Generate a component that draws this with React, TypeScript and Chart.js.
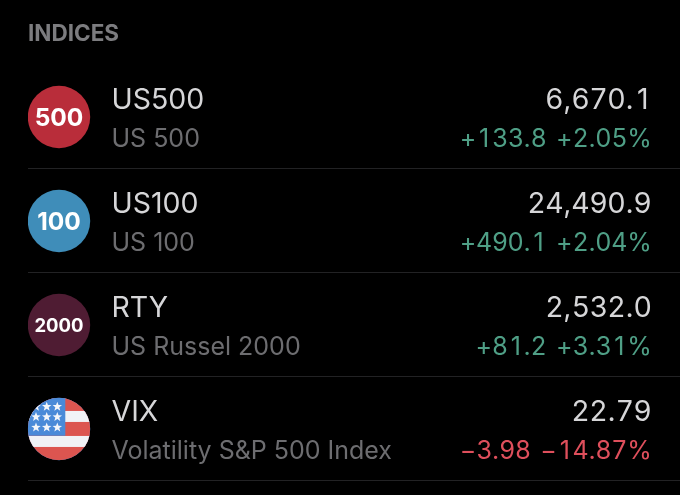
import React, { useEffect, useRef } from "react";
import { Chart, registerables } from "chart.js";

Chart.register(...registerables);

const heading = "INDICES";
const symbols = ["US500", "US100", "RTY", "VIX"];
const names = ["US 500", "US 100", "US Russel 2000", "Volatility S&P 500 Index"];
const prices = ["6,670.1", "24,490.9", "2,532.0", "22.79"];
const changes = ["+133.8", "+490.1", "+81.2", "\u22123.98"];
const percents = ["+2.05%", "+2.04%", "+3.31%", "\u221214.87%"];
const badgeLabels = ["500", "100", "2000", ""];
const badgeColors = ["#b92d3a", "#3f8db9", "#4f1c33", "#4a8ad8"];
const rows = [0, 1, 2, 3];
const separators = [0.5, 1.5, 2.5, 3.5];

const FONT = "Inter, 'Noto Sans', sans-serif";
const GREEN = "#4f9f86";
const RED = "#df4f5c";
const BADGE_X = 59;
const TEXT_X = 111.5;
const RIGHT_X = 651.7;

function text(
  ctx: CanvasRenderingContext2D,
  s: string,
  x: number,
  y: number,
  font: string,
  color: string,
  align: CanvasTextAlign
) {
  ctx.font = font;
  ctx.fillStyle = color;
  ctx.textAlign = align;
  ctx.textBaseline = "alphabetic";
  ctx.fillText(s, x, y);
}

// Right-aligned text whose digits all take one cell width, as in the reference's tabular figures.
function tabular(
  ctx: CanvasRenderingContext2D,
  s: string,
  right: number,
  y: number,
  font: string,
  color: string
) {
  ctx.font = font;
  ctx.fillStyle = color;
  ctx.textBaseline = "alphabetic";
  ctx.textAlign = "center";
  const cell = ctx.measureText("0").width;
  const widths = Array.from(s).map((ch) => (/[0-9]/.test(ch) ? cell : ctx.measureText(ch).width));
  const total = widths.reduce((a, b) => a + b, 0);
  let pos = right - total;
  Array.from(s).forEach((ch, i) => {
    ctx.fillText(ch, pos + widths[i] / 2, y);
    pos += widths[i];
  });
  return total;
}

function star(ctx: CanvasRenderingContext2D, cx: number, cy: number, r: number) {
  ctx.beginPath();
  for (let i = 0; i < 10; i++) {
    const a = -Math.PI / 2 + (i * Math.PI) / 5;
    const rr = i % 2 === 0 ? r : r * 0.42;
    ctx.lineTo(cx + Math.cos(a) * rr, cy + Math.sin(a) * rr);
  }
  ctx.closePath();
  ctx.fill();
}

function flag(ctx: CanvasRenderingContext2D, cx: number, cy: number, r: number) {
  ctx.save();
  ctx.beginPath();
  ctx.arc(cx, cy, r, 0, Math.PI * 2);
  ctx.clip();
  ctx.fillStyle = "#dc5550";
  ctx.fillRect(cx - r, cy - r, r * 2, r * 2);
  ctx.fillStyle = "#f1f2f6";
  ctx.fillRect(cx - r, cy - 18, r * 2, 11);
  ctx.fillRect(cx - r, cy + 7, r * 2, 11);
  ctx.fillStyle = "#4a8ad8";
  ctx.fillRect(cx - r, cy - r, 37.5, 38);
  ctx.fillStyle = "#f4f6fa";
  [-22.3, -12, -1.5].forEach((dy) => {
    [-23, -12.3, -1.7].forEach((dx) => star(ctx, cx + dx, cy + dy, 5));
  });
  ctx.restore();
}

const listPlugin = {
  id: "listText",
  afterDatasetsDraw(chart: any) {
    const ctx: CanvasRenderingContext2D = chart.ctx;
    const x = chart.scales.x;
    const y = chart.scales.y;
    const circle = x.getPixelForValue(BADGE_X);
    const left = x.getPixelForValue(TEXT_X);
    const right = x.getPixelForValue(RIGHT_X);
    ctx.save();
    (ctx as any).filter = "blur(0.35px)";
    text(ctx, heading, 28, y.getPixelForValue(-0.733), `700 22.5px ${FONT}`, "#7c7c7f", "left");
    rows.forEach((i) => {
      const c = y.getPixelForValue(i);
      if (badgeLabels[i]) {
        const small = badgeLabels[i].length > 3;
        text(ctx, badgeLabels[i], circle, c + (small ? 7 : 8.9), `700 ${small ? 18.5 : 24.5}px ${FONT}`, "#ffffff", "center");
      } else {
        flag(ctx, circle, c, 31.2);
      }
      text(ctx, symbols[i], left, c - 8.4, `400 28.5px ${FONT}`, "#d6d6d8", "left");
      text(ctx, names[i], left, c + 29.6, `400 25px ${FONT}`, "#6d6d70", "left");
      tabular(ctx, prices[i], right, c - 8.4, `400 28.5px ${FONT}`, "#d6d6d8");
      const col = changes[i].startsWith("+") ? GREEN : RED;
      const w = tabular(ctx, percents[i], right, c + 29.6, `400 25px ${FONT}`, col);
      tabular(ctx, changes[i], right - w - 9.5, c + 29.6, `400 25px ${FONT}`, col);
    });
    ctx.restore();
  },
};

export default function App() {
  const ref = useRef<HTMLCanvasElement>(null);
  useEffect(() => {
    document.documentElement.style.background = "#000";
    document.body.style.margin = "0";
    document.body.style.background = "#000";
    const chart = new Chart(ref.current!, {
      type: "scatter",
      data: {
        datasets: [
          {
            data: rows.map((r) => ({ x: BADGE_X, y: r })),
            backgroundColor: badgeColors,
            borderWidth: 0,
            pointRadius: 31.2,
            pointHoverRadius: 31.2,
          },
        ],
      },
      options: {
        animation: false,
        responsive: false,
        events: [],
        layout: { autoPadding: false, padding: { left: 28, right: 0, top: 0, bottom: 0 } },
        plugins: { legend: { display: false }, tooltip: { enabled: false } },
        scales: {
          x: {
            type: "linear",
            display: false,
            min: 28,
            max: 680,
          } as any,
          y: {
            type: "linear",
            reverse: true,
            min: -1.1245,
            max: 3.635,
            border: { display: false },
            grid: { color: "#222224", lineWidth: 1, drawTicks: false },
            ticks: { display: false },
            afterFit: (s: any) => {
              s.width = 0;
            },
            afterBuildTicks: (s: any) => {
              s.ticks = separators.map((v) => ({ value: v }));
            },
          } as any,
        },
      },
      plugins: [listPlugin],
    });
    return () => chart.destroy();
  }, []);
  return (
    <div style={{ width: 680, height: 495, background: "#000" }}>
      <canvas ref={ref} width={680} height={495} style={{ display: "block" }} />
    </div>
  );
}
